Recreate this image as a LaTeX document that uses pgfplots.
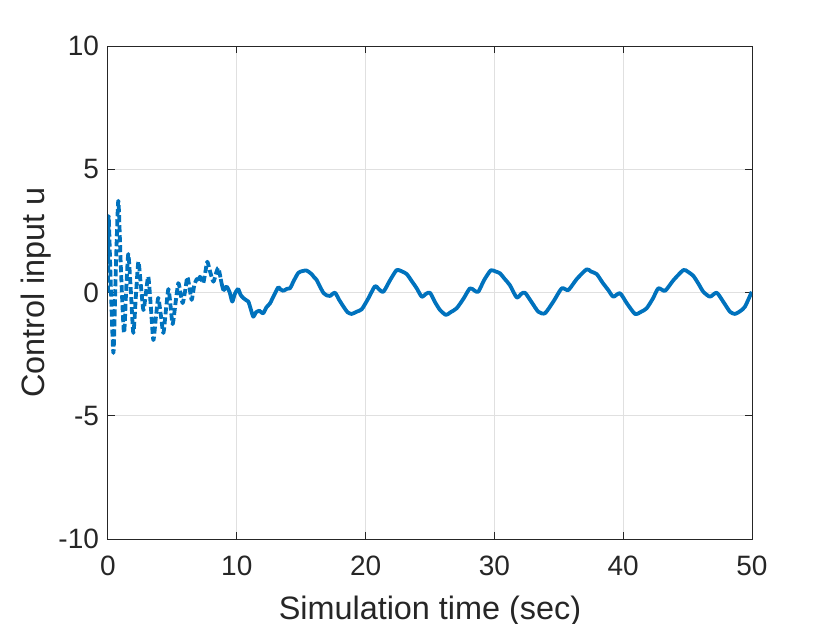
\documentclass[border=0pt]{standalone}
\usepackage{pgfplots}
\pgfplotsset{compat=1.18}
\usepackage{fontspec}
\setmainfont{Liberation Sans}
\definecolor{mblue}{rgb}{0,0.447,0.741}
\definecolor{axgray}{gray}{0.15}
\definecolor{gridgray}{gray}{0.88}
\begin{document}
\begin{tikzpicture}
\begin{axis}[
  at={(0,0)}, anchor=south west,
  scale only axis,
  width=322pt, height=246.5pt,
  xmin=0, xmax=50, ymin=-10, ymax=10,
  xtick={0,10,20,30,40,50},
  ytick={-10,-5,0,5,10},
  grid=major,
  major grid style={draw=gridgray, line width=0.5pt},
  axis line style={draw=axgray, line width=0.5pt},
  tick style={draw=axgray, line width=0.5pt},
  tick align=inside,
  major tick length=3.5pt,
  /pgf/number format/assume math mode=true,
  tick label style={font=\fontsize{14}{16}\selectfont, text=axgray},
  label style={font=\fontsize{16.2}{19}\selectfont, text=axgray},
  xlabel={Simulation time (sec)},
  ylabel={Control input u},
  xticklabel style={yshift=-5pt},
  yticklabel style={xshift=-1pt},
  xlabel style={yshift=-3pt},
  ylabel style={yshift=-3pt},
]
\addplot[mblue, line width=1.9pt, line join=round, smooth, tension=0.4, dash pattern=on 3.5pt off 1.5pt] coordinates {
(0,0) (0.05,3.1) (0.2,0.6) (0.42,-2.45) (0.6,0.8) (0.8,3.72) (1.0,1.0)
(1.24,-1.64) (1.42,0.2) (1.58,1.56) (1.78,0.0) (1.97,-1.64) (2.17,-0.1)
(2.36,1.25) (2.55,0.3) (2.75,-0.71) (2.95,0.0) (3.13,0.64) (3.33,-0.6)
(3.52,-1.93) (3.72,-1.0) (3.9,-0.22) (4.1,-0.9) (4.3,-1.64) (4.5,-0.7)
(4.69,0.14) (4.85,-0.5) (5.02,-1.28) (5.25,-0.4) (5.46,0.38) (5.62,0.0)
(5.8,-0.43) (6.0,0.1) (6.16,0.63) (6.33,0.2) (6.5,-0.3) (6.7,0.3)
(6.9,0.55) (7.0,0.45) (7.14,0.64) (7.3,0.45) (7.4,0.38) (7.55,0.8)
(7.71,1.25) (7.9,0.9) (8.18,0.44) (8.4,0.8) (8.57,1.0) (8.75,0.55)
};
\addplot[mblue, line width=1.9pt, line join=round, smooth, tension=0.4] coordinates {
(8.75,0.55) (8.96,0.1) (9.21,0.24) (9.45,0.0) (9.65,-0.37) (9.85,-0.05)
(10.1,0.14) (10.3,-0.1) (10.5,-0.22) (10.7,-0.3) (10.9,-0.37) (11.1,-0.7) (11.28,-0.98)
(11.5,-0.8) (11.75,-0.74) (11.9,-0.8) (12.06,-0.84) (12.3,-0.6) (12.58,-0.44) (12.9,-0.1)
(13.22,0.21) (13.4,0.12) (13.61,0.07) (13.9,0.15) (14.13,0.17) (14.45,0.5) (14.78,0.8)
(15.1,0.87) (15.43,0.89) (15.8,0.75) (16.0,0.62) (16.2,0.51) (16.45,0.25) (16.72,-0.01)
(17.0,-0.12) (17.24,-0.14) (17.62,-0.01) (17.95,-0.3) (18.28,-0.57) (18.6,-0.8) (18.92,-0.87)
(19.3,-0.78) (19.7,-0.68) (20.2,-0.25) (20.73,0.26) (21.0,0.15) (21.38,0.03)
(21.9,0.5) (22.41,0.91) (22.8,0.86) (23.19,0.75) (23.6,0.45) (23.97,0.17)
(24.36,-0.17) (24.7,-0.05) (25.0,-0.01) (25.4,-0.4) (25.78,-0.71) (26.24,-0.91) (26.6,-0.8)
(27.07,-0.64) (27.6,-0.25) (28.1,0.17) (28.45,0.08) (28.75,0.03) (29.2,0.5)
(29.72,0.9) (30.1,0.85) (30.43,0.78) (30.8,0.55) (31.2,0.3) (31.73,-0.2)
(32.1,-0.05) (32.38,-0.01) (32.9,-0.4) (33.41,-0.78) (33.93,-0.84) (34.6,-0.35) (35.23,0.17)
(35.74,0.1) (36.4,0.55) (37.16,0.94) (37.5,0.85) (37.94,0.75) (38.4,0.4) (38.84,0.1)
(39.23,-0.17) (39.75,-0.03) (40.3,-0.45) (40.92,-0.87) (41.4,-0.78) (41.82,-0.64)
(42.3,-0.25) (42.73,0.17) (43.25,0.07) (43.9,0.5) (44.67,0.91) (45.0,0.85) (45.45,0.67)
(45.85,0.35) (46.22,0.03) (46.74,-0.17) (47.26,-0.01) (47.8,-0.4) (48.29,-0.78)
(48.68,-0.87) (49.1,-0.75) (49.46,-0.57) (49.98,0.03)
};
\end{axis}
\pgfresetboundingbox
\useasboundingbox (-54pt,-42pt) rectangle (361pt,269.5pt);
\end{tikzpicture}
\end{document}
